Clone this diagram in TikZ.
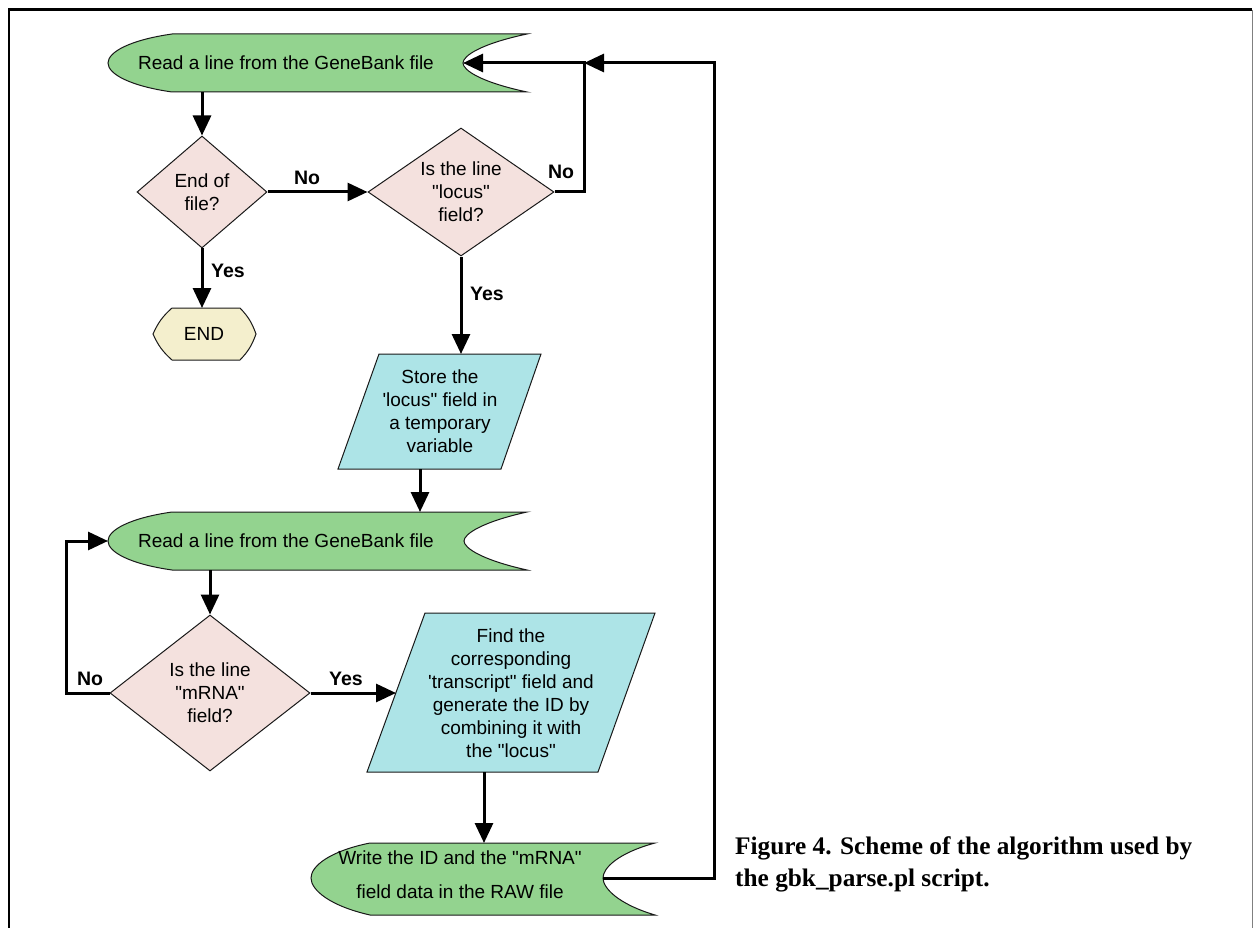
\documentclass[tikz,border=0pt]{standalone}
\usepackage{fontspec}
\setmainfont{Liberation Sans}[Ligatures=TeXOff]
\newfontfamily\capfont{Liberation Serif}[Ligatures=TeXOff]
\usetikzlibrary{arrows.meta,shapes.geometric}
\definecolor{rgreen}{HTML}{93D38F}
\definecolor{dpink}{HTML}{F4E1DE}
\definecolor{pcyan}{HTML}{ADE4E7}
\definecolor{eyellow}{HTML}{F4EFCD}
\begin{document}
\begin{tikzpicture}[x=1pt,y=-1pt,
  outline/.style={draw=black!90, line width=1pt},
  txt/.style={font=\fontsize{19}{23}\selectfont, align=center, inner sep=0pt},
  lbl/.style={font=\fontsize{19.5}{23}\selectfont\bfseries, inner sep=0pt},
  decision/.style={outline, fill=dpink, shape=diamond, txt},
  conn/.style={line width=3pt, draw=black},
  arr/.style={conn, -{Triangle[length=20pt,width=18pt]}},
]
\useasboundingbox (0,0) rectangle (1253,928);
% frame
\draw[line width=3pt] (8,10) -- (1252,10);
\draw[line width=2pt] (9,9) -- (9,928);
\draw[line width=1pt, black!50] (1252,10) -- (1252,928);

% read 1
\path[outline, fill=rgreen] (172,34) -- (527,34) .. controls (480,44) and (463,56) .. (463,63) .. controls (463,70) and (480,82) .. (527,92) -- (172,92) .. controls (130,86) and (108,74) .. (108,63) .. controls (108,52) and (130,40) .. (172,34) -- cycle;
\node[txt] (r1) at (286,63) {Read a line from the GeneBank file};
\coordinate (r1s) at (202,92);
\coordinate (r1notch) at (463,63);

% decisions
\node[decision, aspect=1.16, minimum width=130pt, minimum height=112pt] (d1) at (202,192) {End of\\file?};
\node[decision, aspect=1.45, minimum width=186pt, minimum height=128pt] (d2) at (461,192) {Is the line\\"locus"\\field?};

% END
\path[outline, fill=eyellow] (172,308) -- (240,308) to[bend left=12] (256,334) to[bend left=12] (240,360) -- (172,360) to[bend left=12] (153,334) to[bend left=12] (172,308) -- cycle;
\node[txt] (endt) at (204,334) {END};
\coordinate (endn) at (202,308);

% store
\path[outline, fill=pcyan] (379,354) -- (541,354) -- (501,469) -- (338,469) -- cycle;
\node[txt] (p1) at (440,411) {Store the\\'locus" field in\\a temporary\\variable};
\coordinate (p1n) at (460,354);
\coordinate (p1s) at (420,469);

% read 2
\path[outline, fill=rgreen] (172,512) -- (527,512) .. controls (482,522) and (464,534) .. (464,541) .. controls (464,548) and (482,560) .. (527,570) -- (172,570) .. controls (130,564) and (108,552) .. (108,541) .. controls (108,530) and (130,518) .. (172,512) -- cycle;
\node[txt] (r2) at (286,541) {Read a line from the GeneBank file};
\coordinate (r2n) at (420,512);
\coordinate (r2s) at (210,570);
\coordinate (r2w) at (108,541);

\node[decision, aspect=1.28, minimum width=200pt, minimum height=156pt] (d3) at (210,693) {Is the line\\"mRNA"\\field?};

% find
\path[outline, fill=pcyan] (425,613) -- (655,613) -- (598,772) -- (367,772) -- cycle;
\node[txt] (p2) at (511,693) {Find the\\corresponding\\'transcript" field and\\generate the ID by\\combining it with\\the "locus"};
\coordinate (p2w) at (396,692);
\coordinate (p2s) at (484,772);

% write
\path[outline, fill=rgreen] (370,843) -- (655,843) .. controls (618,853) and (603,868) .. (603,878) .. controls (603,888) and (618,904) .. (655,915) -- (370,915) .. controls (330,906) and (311,890) .. (311,878) .. controls (311,866) and (330,851) .. (370,843) -- cycle;
\node[txt, font=\fontsize{19}{34}\selectfont] (w) at (460,875) {Write the ID and the "mRNA"\\field data in the RAW file};
\coordinate (wn) at (484,843);
\coordinate (wnotch) at (603,878);

% junctions
\coordinate (j1) at (584,63);
\coordinate (j2) at (714,63);
\coordinate (j3) at (714,878);
\coordinate (j4) at (66,692);
\coordinate (j5) at (66,541);

% connectors
\draw[arr] (r1s) -- (d1.north);
\draw[arr] (d1.east) -- (d2.west);
\draw[arr] (d1.south) -- (d1.south |- endn);
\draw[arr] (d2.east) -- (d2.east -| j1) -- (j1) -- (r1notch);
\draw[arr] (wnotch) -- (j3) -- (j2) -- (j1);
\draw[arr] (d2.south) -- (d2.south |- p1n);
\draw[arr] (p1s) -- (r2n);
\draw[arr] (r2s) -- (d3.north);
\draw[arr] (d3.west) -- (d3.west -| j4) -- (j5) -- (r2w);
\draw[arr] (d3.east) -- (d3.east -| p2w);
\draw[arr] (p2s) -- (wn);

% labels
\node[lbl] (no1) at (307,178) {No};
\node[lbl] (no2) at (561,172) {No};
\node[lbl] (yes1) at (228,271) {Yes};
\node[lbl] (yes2) at (487,294) {Yes};
\node[lbl] (no3) at (90,679) {No};
\node[lbl] (yes3) at (346,679) {Yes};

% caption
\node[anchor=base west, inner sep=0pt, font=\capfont\bfseries\fontsize{25.3}{32}\selectfont] (cap1) at (735,854) {Figure 4. Scheme of the algorithm used by};
\node[anchor=base west, inner sep=0pt, font=\capfont\bfseries\fontsize{25.3}{32}\selectfont] (cap2) at (735,886) {the gbk\_parse.pl script.};
\end{tikzpicture}
\end{document}
